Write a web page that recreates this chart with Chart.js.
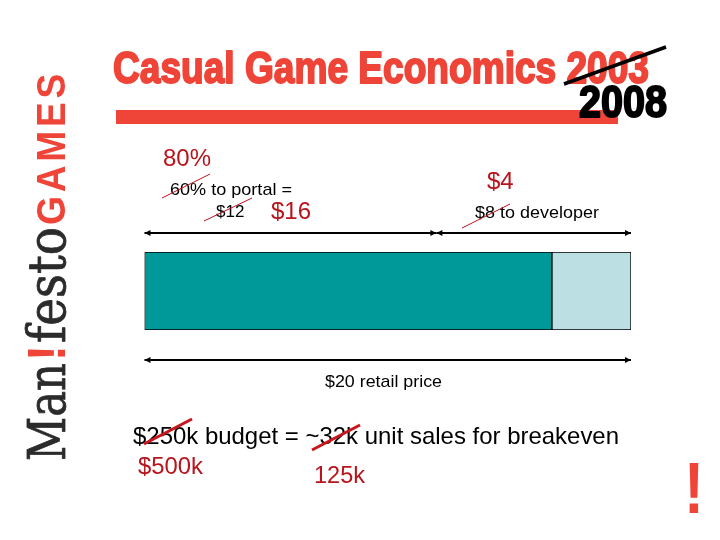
<!DOCTYPE html>
<html>
<head>
<meta charset="utf-8">
<script src="https://cdn.jsdelivr.net/npm/chart.js@4"></script>
<style>
  html, body { margin: 0; padding: 0; background: #fff; }
  canvas { display: block; }
</style>
</head>
<body>
<canvas id="chart" width="720" height="540"></canvas>
<script>
// values, in dollars of retail price
const categories = ['$20 retail price'];
const portalShare = [16.75];
const developerShare = [3.25];
const oldPortalDollars = 12;
const retailDollars = 20;

const RED = '#ef4438';
const DARK_RED = '#b8141c';
const SANS = '"Liberation Sans"';

// draw text squeezed or stretched to a given width, optional outline to fatten it
function label(ctx, text, x, y, font, color, width, fatten) {
    ctx.save();
    ctx.font = font;
    ctx.fillStyle = color;
    ctx.textAlign = 'left';
    ctx.textBaseline = 'alphabetic';
    ctx.translate(x, y);
    if (width) ctx.scale(width / ctx.measureText(text).width, 1);
    ctx.fillText(text, 0, 0);
    if (fatten) {
        ctx.strokeStyle = color;
        ctx.lineWidth = fatten;
        ctx.lineJoin = 'round';
        ctx.strokeText(text, 0, 0);
    }
    ctx.restore();
}

function line(ctx, x1, y1, x2, y2, color, w) {
    ctx.save();
    ctx.strokeStyle = color;
    ctx.lineWidth = w;
    ctx.beginPath();
    ctx.moveTo(x1, y1);
    ctx.lineTo(x2, y2);
    ctx.stroke();
    ctx.restore();
}

function arrowHead(ctx, x, y, dir) {
    ctx.fillStyle = '#000';
    ctx.beginPath();
    ctx.moveTo(x, y);
    ctx.lineTo(x - dir * 6, y - 3);
    ctx.lineTo(x - dir * 6, y + 3);
    ctx.closePath();
    ctx.fill();
}

function arrow(ctx, x1, x2, y) {
    line(ctx, x1, y, x2, y, '#000', 2);
    arrowHead(ctx, x1, y, -1);
    arrowHead(ctx, x2, y, 1);
}

// logo down the left side, rotated
function drawLogo(ctx) {
    ctx.save();
    ctx.translate(65, 461);
    ctx.rotate(-Math.PI / 2);
    label(ctx, 'Man', 0, 0, '52px "DejaVu Serif"', '#2b2b2b', 98, 0.8);
    label(ctx, '!', 100, 0, 'bold 54px ' + SANS, RED, 16);
    label(ctx, 'festo', 118, 0, '52px "DejaVu Serif"', '#2b2b2b', 116, 0.8);
    ctx.letterSpacing = '4px';
    label(ctx, 'GAMES', 236, 0, 'bold 40px ' + SANS, RED, 155);
    ctx.restore();
}

const slidePlugin = {
    id: 'slide',
    afterDraw(chart) {
        const ctx = chart.ctx;
        const x = chart.scales.x;
        const left = x.getPixelForValue(0);
        const right = x.getPixelForValue(retailDollars);
        const cut = x.getPixelForValue(oldPortalDollars);

        drawLogo(ctx);

        // title
        label(ctx, 'Casual Game Economics 2003', 113, 82.5, 'bold 45px ' + SANS, RED, 536, 2);
        ctx.fillStyle = RED;
        ctx.fillRect(116, 110, 502, 14);
        label(ctx, '2008', 579, 116.5, 'bold 45px ' + SANS, '#000', 88, 2);
        line(ctx, 564, 84, 666, 47, '#000', 3.5);

        // shares above the bar
        label(ctx, '80%', 163, 166, '24px ' + SANS, DARK_RED, 48);
        label(ctx, '60% to portal =', 170, 195, '17px ' + SANS, '#000', 122);
        label(ctx, '$12', 216, 217, '17px ' + SANS, '#000');
        label(ctx, '$16', 271, 219, '24px ' + SANS, DARK_RED);
        label(ctx, '$4', 487, 189, '24px ' + SANS, DARK_RED);
        label(ctx, '$8 to developer', 475, 218, '17px ' + SANS, '#000', 124);
        line(ctx, 162, 198, 210, 174, DARK_RED, 1);
        line(ctx, 204, 221, 252, 198, DARK_RED, 1);
        line(ctx, 462, 228, 510, 204, DARK_RED, 1);

        arrow(ctx, left, cut, 233);
        arrow(ctx, cut, right, 233);
        arrow(ctx, left, right, 360);

        // below the bar
        label(ctx, categories[0], 325, 387, '17px ' + SANS, '#000', 117);
        label(ctx, '$250k budget = ~32k unit sales for breakeven', 133, 444, '24px ' + SANS, '#000', 486);
        label(ctx, '$500k', 138, 474, '24px ' + SANS, DARK_RED, 65);
        label(ctx, '125k', 314, 483, '24px ' + SANS, DARK_RED, 51);
        line(ctx, 144, 444, 192, 419, '#c8161d', 3);
        line(ctx, 312, 450, 360, 425, '#c8161d', 3);

        label(ctx, '!', 684, 513, 'bold 72px ' + SANS, RED, 20);
    }
};

new Chart(document.getElementById('chart'), {
    type: 'bar',
    data: {
        labels: categories,
        datasets: [
            { label: 'Portal', data: portalShare, backgroundColor: '#009999', borderColor: '#000', borderWidth: 1, borderSkipped: false },
            { label: 'Developer', data: developerShare, backgroundColor: '#bbdfe2', borderColor: '#000', borderWidth: 1, borderSkipped: false }
        ]
    },
    options: {
        indexAxis: 'y',
        responsive: false,
        animation: false,
        devicePixelRatio: 1,
        layout: { padding: { left: 144.5, right: 89, top: 252, bottom: 210 } },
        datasets: { bar: { barPercentage: 1, categoryPercentage: 1 } },
        scales: {
            x: { stacked: true, min: 0, max: retailDollars, display: false },
            y: { stacked: true, display: false }
        },
        plugins: { legend: { display: false }, tooltip: { enabled: false }, title: { display: false } }
    },
    plugins: [slidePlugin]
});
</script>
</body>
</html>
